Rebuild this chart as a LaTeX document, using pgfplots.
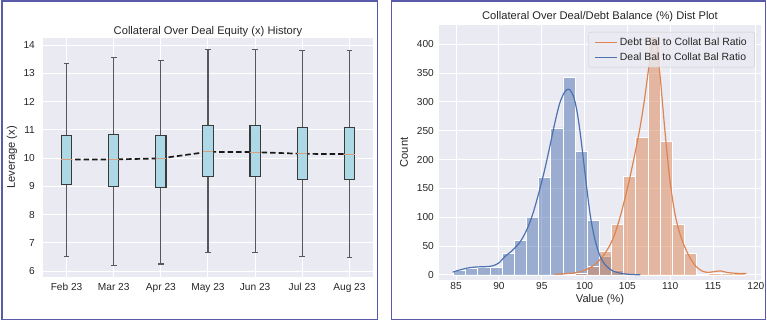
\documentclass[border=0pt]{standalone}
\usepackage{fontspec}
\setmainfont{Liberation Sans}
\usepackage{pgfplots}
\pgfplotsset{compat=1.18}
\usepgfplotslibrary{statistics}
\definecolor{bgc}{HTML}{EAEAF2}
\definecolor{tcol}{HTML}{262626}
\definecolor{sbblue}{HTML}{4C72B0}
\definecolor{sborange}{HTML}{DD8452}
\definecolor{boxblue}{HTML}{ADD8E6}
\definecolor{edgec}{HTML}{3A3A3A}
\definecolor{medc}{HTML}{D9A07E}
\definecolor{framec}{HTML}{5A5AAA}
\definecolor{legc}{HTML}{CCCCCC}
\pgfplotsset{
  sbstyle/.style={
    scale only axis,
    axis background/.style={fill=bgc},
    axis line style={draw=none},
    grid=major,
    major grid style={draw=white, line width=1bp},
    major tick length=0pt,
    tick label style={font=\fontsize{10.2}{12}\selectfont, text=tcol},
    label style={font=\fontsize{11.2}{13}\selectfont, text=tcol},
    title style={font=\fontsize{11.2}{13}\selectfont, text=tcol},
    /pgf/number format/assume math mode=true,
    scaled y ticks=false,
  }
}
\begin{document}
\begin{tikzpicture}
\useasboundingbox (0,0) rectangle (767bp,322bp);
\draw[framec, line width=1.5bp] (2bp,2.7bp) rectangle (377.5bp,321bp);
\draw[framec, line width=1.5bp] (391.5bp,2.7bp) rectangle (765.5bp,321bp);

\begin{axis}[sbstyle,
  at={(43bp,45bp)}, anchor=south west,
  width=330bp, height=239bp,
  xmin=-0.5, xmax=6.5, ymin=5.79, ymax=14.25,
  xtick={0,1,2,3,4,5,6},
  xticklabels={Feb 23, Mar 23, Apr 23, May 23, Jun 23, Jul 23, Aug 23},
  ytick={6,7,...,14},
  xticklabel style={yshift=-3bp},
  yticklabel style={xshift=-4.6bp},
  title={Collateral Over Deal Equity (x) History},
  title style={at={(axis description cs:0.5,1.0)}, anchor=center},
  ylabel={Leverage (x)},
  ylabel style={at={(axis description cs:-0.094,0.5)}, anchor=center, rotate=0},
  boxplot/draw direction=y,
  boxplot/box extend=0.22,
  boxplot/whisker extend=0.12,
  boxplot/every box/.style={fill=boxblue, draw=edgec, line width=1.1bp},
  boxplot/every whisker/.style={draw=edgec!85, line width=1.1bp},
  boxplot/every median/.style={draw=medc, line width=1bp},
]
\addplot[color=black!90, line width=1.7bp, dash pattern=on 5.5bp off 3bp] coordinates {
  (0,9.95) (1,9.95) (2,9.99) (3,10.22) (4,10.21) (5,10.15) (6,10.14)};
\addplot[draw=edgec, boxplot prepared={draw position=0, lower whisker=6.50, lower quartile=9.07, median=9.95, upper quartile=10.79, upper whisker=13.35}] coordinates {};
\addplot[draw=edgec, boxplot prepared={draw position=1, lower whisker=6.20, lower quartile=8.99, median=9.95, upper quartile=10.82, upper whisker=13.55}] coordinates {};
\addplot[draw=edgec, boxplot prepared={draw position=2, lower whisker=6.25, lower quartile=8.96, median=9.99, upper quartile=10.79, upper whisker=13.45}] coordinates {};
\addplot[draw=edgec, boxplot prepared={draw position=3, lower whisker=6.67, lower quartile=9.36, median=10.22, upper quartile=11.14, upper whisker=13.85}] coordinates {};
\addplot[draw=edgec, boxplot prepared={draw position=4, lower whisker=6.65, lower quartile=9.34, median=10.21, upper quartile=11.14, upper whisker=13.83}] coordinates {};
\addplot[draw=edgec, boxplot prepared={draw position=5, lower whisker=6.50, lower quartile=9.25, median=10.15, upper quartile=11.08, upper whisker=13.80}] coordinates {};
\addplot[draw=edgec, boxplot prepared={draw position=6, lower whisker=6.47, lower quartile=9.23, median=10.14, upper quartile=11.08, upper whisker=13.80}] coordinates {};
\end{axis}

\begin{axis}[sbstyle,
  at={(439bp,42bp)}, anchor=south west,
  width=322bp, height=255bp,
  xmin=83.0, xmax=120.6, ymin=-8.7, ymax=433.5,
  xtick={85,90,...,120},
  ytick={0,50,...,400},
  xticklabel style={yshift=1bp},
  yticklabel style={xshift=-1.6bp},
  title={Collateral Over Deal/Debt Balance (\%) Dist Plot},
  title style={at={(axis description cs:0.5,1.0092)}, anchor=center},
  xlabel={Value (\%)},
  xlabel style={at={(axis description cs:0.5,-0.078)}, anchor=center},
  ylabel={Count},
  ylabel style={at={(axis description cs:-0.1087,0.5)}, anchor=center, rotate=0},
  legend style={at={(axis description cs:0.981,0.973)}, anchor=north east,
    fill=bgc, fill opacity=0.8, draw opacity=1, text opacity=1, draw=legc,
    rounded corners=2bp, font=\fontsize{10.5}{12}\selectfont, text=tcol,
    inner xsep=6bp, inner ysep=3.5bp, row sep=2bp, cells={anchor=west}},
  legend image code/.code={\draw[#1] (0bp,0bp) -- (22bp,0bp);},
]
\addplot[ybar interval, fill=sbblue, fill opacity=0.5, draw=white, line width=0.8bp, forget plot] coordinates {
  (84.69,8) (86.11,12) (87.53,13) (88.95,13) (90.37,38) (91.79,60) (93.21,100)
  (94.63,169) (96.05,255) (97.47,343) (98.89,214) (100.31,95) (101.73,33)
  (103.15,8) (104.57,1) (105.99,0)};
\addplot[ybar interval, fill=sborange, fill opacity=0.5, draw=white, line width=0.8bp, forget plot] coordinates {
  (97.47,1) (98.89,3) (100.31,15) (101.73,41) (103.15,88) (104.57,171)
  (105.99,239) (107.41,413) (108.83,231) (110.25,87) (111.67,37) (113.09,1)
  (114.51,3) (115.93,3) (117.35,2) (118.77,0)};
\addplot[sborange, line width=1.2bp, smooth] coordinates {
  (96.5,1) (97.5,2) (98.5,3) (99.5,5.5) (100.3,10) (101,16) (101.7,25) (102.3,36)
  (102.9,50) (103.5,70) (104.1,98) (104.7,132) (105.3,170) (105.9,212) (106.5,258)
  (107.0,305) (107.5,360) (107.9,398) (108.2,406) (108.5,392) (108.85,340)
  (109.2,280) (109.6,215) (110.0,160) (110.5,110) (111.0,78) (111.6,52) (112.3,30)
  (113.0,15) (113.7,7) (114.4,4.5) (115.2,6) (115.9,7) (116.6,4.5) (117.5,3) (118.9,2.5)};
\addlegendentry{Debt Bal to Collat Bal Ratio}
\addplot[sbblue, line width=1.2bp, smooth] coordinates {
  (84.6,5) (85.5,9) (86.5,12.5) (87.5,14) (88.5,14.5) (89.3,16) (90,21) (90.7,32)
  (91.6,43) (92.5,58) (93.3,80) (94.0,108) (94.7,145) (95.3,180) (95.9,220)
  (96.5,262) (97.1,298) (97.7,318) (98.2,322) (98.7,310) (99.1,285) (99.5,245)
  (99.9,195) (100.3,145) (100.7,100) (101.2,62) (101.8,33) (102.5,16) (103.3,7)
  (104.2,3) (105.3,1) (106.5,0.3)};
\addlegendentry{Deal Bal to Collat Bal Ratio}
\end{axis}
\end{tikzpicture}
\end{document}
